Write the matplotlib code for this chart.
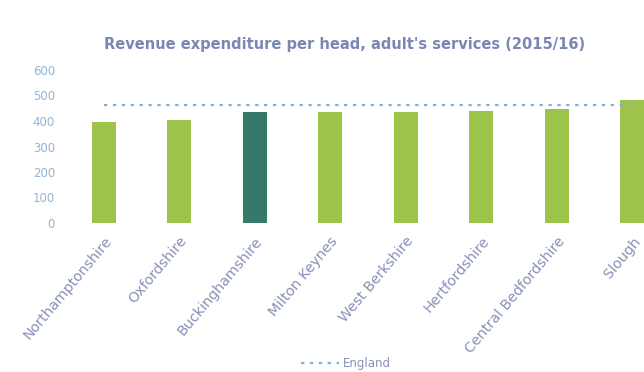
import numpy as np
import matplotlib.pyplot as plt

# data
areas = ["Northamptonshire", "Oxfordshire", "Buckinghamshire", "Milton Keynes",
         "West Berkshire", "Hertfordshire", "Central Bedfordshire", "Slough"]
spend = [396, 405, 435, 435, 435, 440, 448, 483]
england = 464
highlight = "Buckinghamshire"

green = "#9dc34a"
dark = "#35796b"
txt = "#8891b6"

fig = plt.figure(figsize=(6.44, 3.72), dpi=100)
ax = fig.add_axes([66/644, 1 - 223/372, (644-66)/644, 153/372])

x = np.arange(len(areas))
cols = [dark if a == highlight else green for a in areas]
ax.bar(x, spend, width=0.32, color=cols, zorder=2)

# England average as dotted line across the categories
ax.plot(x, [england]*len(x), ls=(0, (1.5, 2.5)), color="#7fb2d6", lw=1.6,
        label="England", zorder=3)

ax.set_xlim(-0.5, (644-66)/75.5 - 0.5)
ax.set_ylim(0, 600)
ax.set_yticks(range(0, 601, 100))
ax.tick_params(axis="y", length=0, colors="#93b6d6", labelsize=8.5, pad=8)
ax.tick_params(axis="x", length=0, colors=txt, labelsize=10.3, pad=8)
ax.set_xticks(x)
ax.set_xticklabels(areas, rotation=50, ha="right", rotation_mode="anchor")
for s in ax.spines.values():
    s.set_visible(False)

fig.text(345/644, 1 - 44/372, "Revenue expenditure per head, adult's services (2015/16)",
         ha="center", va="center", fontsize=10.5, color="#7a86b4", fontweight="bold")

leg = fig.legend(loc="center", bbox_to_anchor=(346/644, 1 - 364/372), frameon=False,
                 fontsize=8.5, handlelength=3.2, handletextpad=0.4)
for t in leg.get_texts():
    t.set_color(txt)

fig.savefig("out.png")
